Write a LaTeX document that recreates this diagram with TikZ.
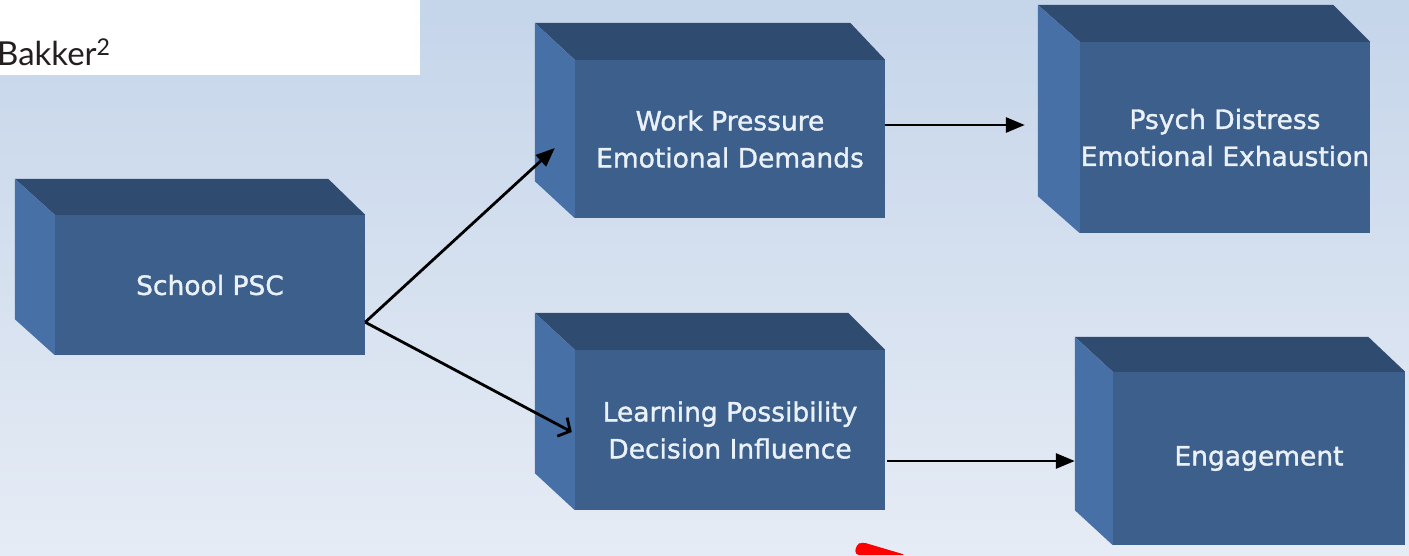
\documentclass[tikz,border=0pt]{standalone}
\usepackage{fontspec}
\setmainfont{DejaVu Sans}
\newfontfamily\labelfont[FakeBold=1.3]{DejaVu Sans}
\newfontfamily\citefont{Lato}
\usetikzlibrary{arrows.meta,calc}

\definecolor{bgtop}{HTML}{C5D5EA}
\definecolor{bgbot}{HTML}{E6ECF5}
\definecolor{frontc}{HTML}{3D5F8C}
\definecolor{topc}{HTML}{2F4B70}
\definecolor{sidec}{HTML}{4670A6}
\definecolor{labelc}{HTML}{EAF1F8}
\definecolor{citec}{HTML}{231F20}

\tikzset{
  front/.style={fill=frontc, draw=none, inner sep=0pt, text=labelc, align=center,
    font=\labelfont\fontsize{26.5}{37}\selectfont},
  topface/.style={fill=topc},
  sideface/.style={fill=sidec},
  link/.style={draw=black, line width=2.8pt, -{Triangle[length=19pt,width=15pt]}},
  openlink/.style={draw=black, line width=2.8pt,
    -{Straight Barb[length=9pt,width=21pt,line width=2.8pt]}}
}

% 3-D block: name, centre, width, height, left depth (dx,dy), right dx, text
\newcommand\blockbox[8]{%
  \node[front, minimum width=#3pt, minimum height=#4pt] (#1) at (#2) {#8};
  \fill[topface] (#1.north west) -- ++(-#5,-#6) -- ($(#1.north east)+(-#7,-#6)$)
     -- (#1.north east) -- cycle;
  \fill[sideface] (#1.north west) -- ++(-#5,-#6) -- ($(#1.south west)+(-#5,-#6)$)
     -- (#1.south west) -- cycle;
}

\begin{document}
\begin{tikzpicture}[x=1pt,y=-1pt]
  % background
  \shade[top color=bgtop, bottom color=bgbot] (0,0) rectangle (1409,555);
  \useasboundingbox (0,0) rectangle (1409,555);

  % citation strip
  \fill[white] (0,0) rectangle (420,75);
  \node[anchor=base west, inner sep=0pt, text=citec,
        font=\citefont\fontsize{33}{38}\selectfont] (cite) at (-3,65) {Bakker\textsuperscript{2}};

  % blocks
  \blockbox{psc}{210,285}{310}{140}{40}{36}{37}{School PSC}
  \blockbox{wp}{730,139}{310}{158}{40}{37}{35}{Work Pressure\\Emotional Demands}
  \blockbox{pd}{1225,137.5}{290}{191}{42}{37}{37}{Psych Distress\\Emotional Exhaustion}
  \blockbox{lp}{730,430}{310}{160}{40}{37}{37}{Learning Possibility\\Decision Influence}
  \blockbox{eng}{1259,458.5}{292}{173}{38}{35}{37}{Engagement}

  % connector end points
  \coordinate (fork) at ($(psc.south east)+(0,-33)$);
  \coordinate (wpin) at ($(wp.west)+(-20,9)$);
  \coordinate (lpin) at ($(lp.west)+(-3,2)$);
  \coordinate (wpout) at ($(wp.east)+(0,-14)$);
  \coordinate (pdin) at ($(pd.west)+(-55,-12.5)$);
  \coordinate (lpout) at ($(lp.east)+(2,31)$);
  \coordinate (engin) at ($(eng.west)+(-38,2.5)$);

  % connectors
  \draw[link] (fork) -- (wpin);
  \draw[openlink] (fork) -- (lpin);
  \draw[link] (wpout) -- (pdin);
  \draw[link] (lpout) -- (engin);

  % red marker at the lower edge
  \fill[red, rounded corners=4pt] (855,555) -- (856,545) -- (862,542) -- (906,555) -- cycle;
\end{tikzpicture}
\end{document}
